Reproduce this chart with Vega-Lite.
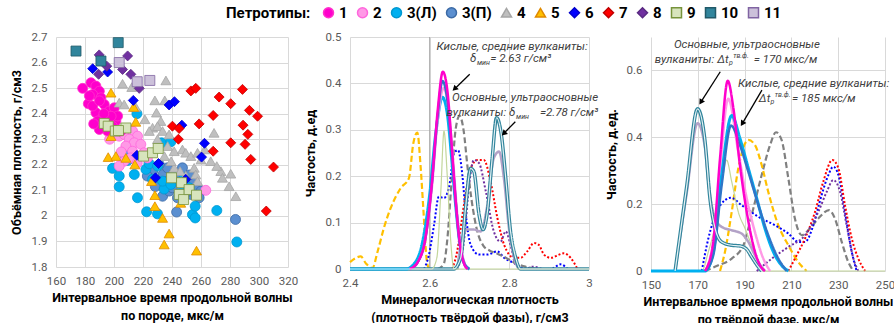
{
"$schema": "https://vega.github.io/schema/vega-lite/v6.json",
"background": "white",
"padding": {"left": 10, "top": 5, "right": 5, "bottom": 0},
"bounds": "flush",
"spacing": 62,
"config": {
  "font": "Roboto",
  "view": {"stroke": null},
  "axis": {"labelColor": "#595959", "labelFontSize": 11.5, "titleFontSize": 12.5, "titleFontWeight": "bold", "titleColor": "#000000", "gridColor": "#D9D9D9", "domain": false, "ticks": false, "labelPadding": 8, "titlePadding": 5, "titleLineHeight": 18, "labelFlush": false, "labelOverlap": false, "labelBound": false},
  "axisY": {"labelPadding": 9, "titlePadding": 8}
},
"datasets": {
  "scatter": [
    {"pt":"3(П)","x":226.6,"y":2.175},{"pt":"3(П)","x":233.8,"y":2.162},{"pt":"3(П)","x":236.9,"y":2.188},{"pt":"3(П)","x":241.5,"y":2.168},{"pt":"3(П)","x":245.9,"y":2.156},{"pt":"3(П)","x":230,"y":2.136},{"pt":"3(П)","x":236.9,"y":2.136},{"pt":"3(П)","x":242.7,"y":2.13},{"pt":"3(П)","x":250.7,"y":2.123},{"pt":"3(П)","x":255.3,"y":2.136},{"pt":"3(П)","x":257.6,"y":2.11},{"pt":"3(П)","x":233.5,"y":2.077},{"pt":"3(П)","x":238,"y":2.097},{"pt":"3(П)","x":243.8,"y":2.071},{"pt":"3(П)","x":253,"y":2.084},{"pt":"3(П)","x":260,"y":2.097},{"pt":"3(П)","x":243.2,"y":2.015},{"pt":"3(П)","x":283.8,"y":1.986},{"pt":"3(П)","x":258.7,"y":2.071},{"pt":"3(П)","x":223,"y":2.156},{"pt":"3(П)","x":231.2,"y":2.201},{"pt":"3(П)","x":247.2,"y":2.188},{"pt":"3(П)","x":249.5,"y":2.09},{"pt":"3(П)","x":240.3,"y":2.11},{"pt":"3(П)","x":228.5,"y":2.115},{"pt":"3(П)","x":252,"y":2.16},
    {"pt":"3(Л)","x":215.8,"y":2.4},{"pt":"3(Л)","x":212.1,"y":2.286},{"pt":"3(Л)","x":207.3,"y":2.24},{"pt":"3(Л)","x":209.4,"y":2.217},{"pt":"3(Л)","x":199,"y":2.186},{"pt":"3(Л)","x":203.6,"y":2.156},{"pt":"3(Л)","x":203.6,"y":2.114},{"pt":"3(Л)","x":214,"y":2.162},{"pt":"3(Л)","x":216.2,"y":2.071},{"pt":"3(Л)","x":222,"y":2.182},{"pt":"3(Л)","x":222.5,"y":2.016},{"pt":"3(Л)","x":230,"y":2.008},{"pt":"3(Л)","x":226.6,"y":2.143},{"pt":"3(Л)","x":232.8,"y":2.286},{"pt":"3(Л)","x":239.2,"y":2.29},{"pt":"3(Л)","x":234.6,"y":2.105},{"pt":"3(Л)","x":233.5,"y":2.136},{"pt":"3(Л)","x":239.2,"y":2.123},{"pt":"3(Л)","x":251.8,"y":2.11},{"pt":"3(Л)","x":254.1,"y":2.005},{"pt":"3(Л)","x":256,"y":1.992},{"pt":"3(Л)","x":256,"y":2.038},{"pt":"3(Л)","x":270.9,"y":2.021},{"pt":"3(Л)","x":284.7,"y":1.898},{"pt":"3(Л)","x":224.3,"y":2.204},{"pt":"3(Л)","x":230,"y":2.195},{"pt":"3(Л)","x":246,"y":2.09},{"pt":"3(Л)","x":248.3,"y":2.149},
    {"pt":"2","x":191,"y":2.345},{"pt":"2","x":199,"y":2.332},{"pt":"2","x":203.6,"y":2.312},{"pt":"2","x":207,"y":2.319},{"pt":"2","x":212.8,"y":2.332},{"pt":"2","x":216.2,"y":2.312},{"pt":"2","x":210.5,"y":2.3},{"pt":"2","x":214,"y":2.286},{"pt":"2","x":208.2,"y":2.273},{"pt":"2","x":218.5,"y":2.28},{"pt":"2","x":212.8,"y":2.253},{"pt":"2","x":220.8,"y":2.247},{"pt":"2","x":207,"y":2.214},{"pt":"2","x":211.6,"y":2.227},{"pt":"2","x":203.6,"y":2.195},{"pt":"2","x":263.3,"y":2.1},{"pt":"2","x":216,"y":2.207},{"pt":"2","x":223,"y":2.227},{"pt":"2","x":197,"y":2.3},{"pt":"2","x":205,"y":2.25},
    {"pt":"1","x":178.4,"y":2.499},{"pt":"1","x":184.1,"y":2.521},{"pt":"1","x":187.5,"y":2.508},{"pt":"1","x":189.9,"y":2.488},{"pt":"1","x":185.3,"y":2.475},{"pt":"1","x":191,"y":2.462},{"pt":"1","x":193.3,"y":2.436},{"pt":"1","x":182.3,"y":2.439},{"pt":"1","x":187.5,"y":2.404},{"pt":"1","x":196.7,"y":2.41},{"pt":"1","x":192.1,"y":2.384},{"pt":"1","x":196.7,"y":2.358},{"pt":"1","x":201.3,"y":2.371},{"pt":"1","x":204.8,"y":2.332},{"pt":"1","x":195.5,"y":2.332},{"pt":"1","x":188.7,"y":2.371},{"pt":"1","x":200.2,"y":2.423},{"pt":"1","x":202.5,"y":2.391},{"pt":"1","x":189.9,"y":2.338},{"pt":"1","x":185.3,"y":2.43},{"pt":"1","x":183,"y":2.47},{"pt":"1","x":190,"y":2.45},{"pt":"1","x":198,"y":2.39},{"pt":"1","x":193,"y":2.4},{"pt":"1","x":186,"y":2.36},{"pt":"1","x":199,"y":2.35},
    {"pt":"4","x":205.9,"y":2.517},{"pt":"4","x":212.3,"y":2.504},{"pt":"4","x":235.8,"y":2.53},{"pt":"4","x":203.6,"y":2.443},{"pt":"4","x":207,"y":2.436},{"pt":"4","x":215,"y":2.426},{"pt":"4","x":228.2,"y":2.452},{"pt":"4","x":235,"y":2.452},{"pt":"4","x":229.3,"y":2.404},{"pt":"4","x":221.3,"y":2.378},{"pt":"4","x":232.3,"y":2.371},{"pt":"4","x":226.6,"y":2.345},{"pt":"4","x":230,"y":2.351},{"pt":"4","x":224.3,"y":2.332},{"pt":"4","x":233.5,"y":2.332},{"pt":"4","x":238,"y":2.319},{"pt":"4","x":230,"y":2.3},{"pt":"4","x":237,"y":2.273},{"pt":"4","x":241.5,"y":2.253},{"pt":"4","x":247.2,"y":2.26},{"pt":"4","x":249.5,"y":2.247},{"pt":"4","x":253,"y":2.234},{"pt":"4","x":257.6,"y":2.247},{"pt":"4","x":262.6,"y":2.26},{"pt":"4","x":266.7,"y":2.214},{"pt":"4","x":269,"y":2.325},{"pt":"4","x":273.7,"y":2.175},{"pt":"4","x":270.9,"y":2.195},{"pt":"4","x":274.8,"y":2.149},{"pt":"4","x":280.5,"y":2.165},{"pt":"4","x":279.4,"y":2.116},{"pt":"4","x":284,"y":2.077},{"pt":"4","x":249.5,"y":2.158},{"pt":"4","x":255.3,"y":2.188},{"pt":"4","x":256.4,"y":2.162},{"pt":"4","x":241.5,"y":2.188},{"pt":"4","x":245.6,"y":2.175},{"pt":"4","x":241.5,"y":2.149},{"pt":"4","x":260,"y":2.22},{"pt":"4","x":257.6,"y":2.136},{"pt":"4","x":234.8,"y":2.234},{"pt":"4","x":239.4,"y":2.214},
    {"pt":"5","x":197.9,"y":2.482},{"pt":"5","x":213.5,"y":2.426},{"pt":"5","x":215,"y":2.368},{"pt":"5","x":197.9,"y":2.312},{"pt":"5","x":196,"y":2.23},{"pt":"5","x":201.3,"y":2.234},{"pt":"5","x":208.2,"y":2.227},{"pt":"5","x":214.4,"y":2.201},{"pt":"5","x":225.9,"y":2.136},{"pt":"5","x":228.2,"y":2.081},{"pt":"5","x":228.2,"y":2.038},{"pt":"5","x":233.5,"y":1.992},{"pt":"5","x":238,"y":1.931},{"pt":"5","x":234.6,"y":1.888},{"pt":"5","x":256.9,"y":1.864},{"pt":"5","x":246,"y":2.051},
    {"pt":"6","x":185.3,"y":2.576},{"pt":"6","x":195.6,"y":2.563},{"pt":"6","x":213.3,"y":2.452},{"pt":"6","x":238,"y":2.434},{"pt":"6","x":241.7,"y":2.447},{"pt":"6","x":246.8,"y":2.355},{"pt":"6","x":262.4,"y":2.284},{"pt":"6","x":260.4,"y":2.23},{"pt":"6","x":215.8,"y":2.237},{"pt":"6","x":230.7,"y":2.205},{"pt":"6","x":228.6,"y":2.149},{"pt":"6","x":249.5,"y":2.143},
    {"pt":"7","x":253,"y":2.489},{"pt":"7","x":256.4,"y":2.499},{"pt":"7","x":272.5,"y":2.465},{"pt":"7","x":288.6,"y":2.495},{"pt":"7","x":280.5,"y":2.439},{"pt":"7","x":293.4,"y":2.413},{"pt":"7","x":299,"y":2.39},{"pt":"7","x":268.4,"y":2.393},{"pt":"7","x":258.7,"y":2.36},{"pt":"7","x":240.3,"y":2.351},{"pt":"7","x":244.9,"y":2.342},{"pt":"7","x":244.4,"y":2.3},{"pt":"7","x":289,"y":2.355},{"pt":"7","x":292.3,"y":2.319},{"pt":"7","x":280.5,"y":2.286},{"pt":"7","x":290.4,"y":2.28},{"pt":"7","x":268.4,"y":2.253},{"pt":"7","x":294.3,"y":2.221},{"pt":"7","x":310,"y":2.191},{"pt":"7","x":305,"y":2.019},
    {"pt":"8","x":189.8,"y":2.63},{"pt":"8","x":195,"y":2.586},{"pt":"8","x":189.4,"y":2.554},{"pt":"8","x":209.4,"y":2.626},{"pt":"8","x":205.9,"y":2.573},{"pt":"8","x":211.6,"y":2.554},{"pt":"8","x":217.4,"y":2.499},
    {"pt":"9","x":193.3,"y":2.362},{"pt":"9","x":196,"y":2.351},{"pt":"9","x":200.9,"y":2.332},{"pt":"9","x":208.2,"y":2.344},{"pt":"9","x":203.1,"y":2.334},{"pt":"9","x":220.4,"y":2.234},{"pt":"9","x":226.6,"y":2.247},{"pt":"9","x":230.5,"y":2.264},{"pt":"9","x":239.7,"y":2.149},{"pt":"9","x":246.6,"y":2.13},{"pt":"9","x":245,"y":2.084},{"pt":"9","x":248,"y":2.064},{"pt":"9","x":251.8,"y":2.103},{"pt":"9","x":256.9,"y":2.081},
    {"pt":"10","x":173.8,"y":2.645},{"pt":"10","x":202.9,"y":2.678},{"pt":"10","x":191,"y":2.606},
    {"pt":"11","x":203.6,"y":2.6},{"pt":"11","x":216,"y":2.525},{"pt":"11","x":224.7,"y":2.53}
  ],
  "dens": [
    {"pt":"5","x":2.4,"y":0.015},{"pt":"5","x":2.427,"y":0.027},{"pt":"5","x":2.44,"y":0.012},{"pt":"5","x":2.456,"y":0.002},{"pt":"5","x":2.47,"y":0.04},{"pt":"5","x":2.485,"y":0.088},{"pt":"5","x":2.502,"y":0.131},{"pt":"5","x":2.527,"y":0.174},{"pt":"5","x":2.548,"y":0.196},{"pt":"5","x":2.559,"y":0.271},{"pt":"5","x":2.569,"y":0.294},{"pt":"5","x":2.577,"y":0.224},{"pt":"5","x":2.584,"y":0.131},{"pt":"5","x":2.592,"y":0.024},{"pt":"5","x":2.598,"y":0},
    {"pt":"6","x":2.586,"y":0},{"pt":"6","x":2.598,"y":0.03},{"pt":"6","x":2.611,"y":0.095},{"pt":"6","x":2.623,"y":0.156},{"pt":"6","x":2.636,"y":0.153},{"pt":"6","x":2.651,"y":0.188},{"pt":"6","x":2.661,"y":0.25},{"pt":"6","x":2.671,"y":0.256},{"pt":"6","x":2.682,"y":0.203},{"pt":"6","x":2.69,"y":0.124},{"pt":"6","x":2.703,"y":0.052},{"pt":"6","x":2.724,"y":0.031},{"pt":"6","x":2.745,"y":0.031},{"pt":"6","x":2.77,"y":0.038},{"pt":"6","x":2.787,"y":0.024},{"pt":"6","x":2.812,"y":0.013},{"pt":"6","x":2.837,"y":0.002},{"pt":"6","x":2.904,"y":0},{"pt":"6","x":2.929,"y":0.01},{"pt":"6","x":2.946,"y":0},
    {"pt":"7","x":2.657,"y":0},{"pt":"7","x":2.669,"y":0.038},{"pt":"7","x":2.686,"y":0.138},{"pt":"7","x":2.703,"y":0.217},{"pt":"7","x":2.72,"y":0.235},{"pt":"7","x":2.736,"y":0.235},{"pt":"7","x":2.753,"y":0.188},{"pt":"7","x":2.77,"y":0.11},{"pt":"7","x":2.787,"y":0.052},{"pt":"7","x":2.812,"y":0.024},{"pt":"7","x":2.828,"y":0.024},{"pt":"7","x":2.845,"y":0.038},{"pt":"7","x":2.862,"y":0.056},{"pt":"7","x":2.874,"y":0.052},{"pt":"7","x":2.887,"y":0.031},{"pt":"7","x":2.904,"y":0.024},{"pt":"7","x":2.925,"y":0.031},{"pt":"7","x":2.937,"y":0.034},{"pt":"7","x":2.954,"y":0.024},{"pt":"7","x":2.971,"y":0},
    {"pt":"8","x":2.669,"y":0},{"pt":"8","x":2.686,"y":0.06},{"pt":"8","x":2.699,"y":0.181},{"pt":"8","x":2.711,"y":0.235},{"pt":"8","x":2.724,"y":0.228},{"pt":"8","x":2.741,"y":0.167},{"pt":"8","x":2.761,"y":0.081},{"pt":"8","x":2.778,"y":0.059},{"pt":"8","x":2.791,"y":0.081},{"pt":"8","x":2.803,"y":0.052},{"pt":"8","x":2.816,"y":0.009},{"pt":"8","x":2.837,"y":0},{"pt":"8","x":2.86,"y":0.005},{"pt":"8","x":2.88,"y":0},
    {"pt":"4","x":2.62,"y":0},{"pt":"4","x":2.635,"y":0.01},{"pt":"4","x":2.645,"y":0.07},{"pt":"4","x":2.655,"y":0.19},{"pt":"4","x":2.665,"y":0.3},{"pt":"4","x":2.675,"y":0.33},{"pt":"4","x":2.685,"y":0.3},{"pt":"4","x":2.695,"y":0.22},{"pt":"4","x":2.705,"y":0.15},{"pt":"4","x":2.72,"y":0.08},{"pt":"4","x":2.735,"y":0.05},{"pt":"4","x":2.75,"y":0.04},{"pt":"4","x":2.77,"y":0.033},{"pt":"4","x":2.79,"y":0.025},{"pt":"4","x":2.81,"y":0.015},{"pt":"4","x":2.84,"y":0.005},{"pt":"4","x":2.87,"y":0},
    {"pt":"11","x":2.669,"y":0},{"pt":"11","x":2.682,"y":0.067},{"pt":"11","x":2.695,"y":0.085},{"pt":"11","x":2.711,"y":0.085},{"pt":"11","x":2.728,"y":0.081},{"pt":"11","x":2.745,"y":0.138},{"pt":"11","x":2.761,"y":0.239},{"pt":"11","x":2.774,"y":0.253},{"pt":"11","x":2.787,"y":0.191},{"pt":"11","x":2.799,"y":0.088},{"pt":"11","x":2.812,"y":0.024},{"pt":"11","x":2.824,"y":0},
    {"pt":"10","x":2.4,"y":0},{"pt":"10","x":2.66,"y":0},{"pt":"10","x":2.678,"y":0.024},{"pt":"10","x":2.69,"y":0.131},{"pt":"10","x":2.703,"y":0.217},{"pt":"10","x":2.711,"y":0.21},{"pt":"10","x":2.724,"y":0.117},{"pt":"10","x":2.734,"y":0.085},{"pt":"10","x":2.745,"y":0.124},{"pt":"10","x":2.757,"y":0.239},{"pt":"10","x":2.768,"y":0.326},{"pt":"10","x":2.78,"y":0.289},{"pt":"10","x":2.791,"y":0.196},{"pt":"10","x":2.803,"y":0.081},{"pt":"10","x":2.816,"y":0.024},{"pt":"10","x":2.828,"y":0},{"pt":"10","x":3.0,"y":0},
    {"pt":"9","x":2.4,"y":0},{"pt":"9","x":2.605,"y":0},{"pt":"9","x":2.618,"y":0.024},{"pt":"9","x":2.628,"y":0.167},{"pt":"9","x":2.636,"y":0.297},{"pt":"9","x":2.644,"y":0.203},{"pt":"9","x":2.653,"y":0.059},{"pt":"9","x":2.661,"y":0},{"pt":"9","x":3.0,"y":0},
    {"pt":"3(Л)","x":2.4,"y":0},{"pt":"3(Л)","x":2.54,"y":0},{"pt":"3(Л)","x":2.56,"y":0.01},{"pt":"3(Л)","x":2.58,"y":0.05},{"pt":"3(Л)","x":2.6,"y":0.16},{"pt":"3(Л)","x":2.615,"y":0.29},{"pt":"3(Л)","x":2.632,"y":0.37},{"pt":"3(Л)","x":2.645,"y":0.33},{"pt":"3(Л)","x":2.655,"y":0.24},{"pt":"3(Л)","x":2.665,"y":0.14},{"pt":"3(Л)","x":2.675,"y":0.06},{"pt":"3(Л)","x":2.688,"y":0.01},{"pt":"3(Л)","x":2.7,"y":0},
    {"pt":"2","x":2.55,"y":0},{"pt":"2","x":2.57,"y":0.015},{"pt":"2","x":2.59,"y":0.07},{"pt":"2","x":2.605,"y":0.17},{"pt":"2","x":2.62,"y":0.32},{"pt":"2","x":2.635,"y":0.39},{"pt":"2","x":2.648,"y":0.34},{"pt":"2","x":2.66,"y":0.22},{"pt":"2","x":2.67,"y":0.11},{"pt":"2","x":2.68,"y":0.04},{"pt":"2","x":2.692,"y":0.005},{"pt":"2","x":2.7,"y":0},
    {"pt":"3(П)","x":2.55,"y":0},{"pt":"3(П)","x":2.57,"y":0.015},{"pt":"3(П)","x":2.59,"y":0.07},{"pt":"3(П)","x":2.605,"y":0.18},{"pt":"3(П)","x":2.62,"y":0.33},{"pt":"3(П)","x":2.632,"y":0.405},{"pt":"3(П)","x":2.645,"y":0.36},{"pt":"3(П)","x":2.655,"y":0.26},{"pt":"3(П)","x":2.665,"y":0.15},{"pt":"3(П)","x":2.675,"y":0.06},{"pt":"3(П)","x":2.688,"y":0.01},{"pt":"3(П)","x":2.7,"y":0},
    {"pt":"1","x":2.55,"y":0},{"pt":"1","x":2.57,"y":0.015},{"pt":"1","x":2.59,"y":0.07},{"pt":"1","x":2.605,"y":0.18},{"pt":"1","x":2.62,"y":0.34},{"pt":"1","x":2.633,"y":0.425},{"pt":"1","x":2.645,"y":0.38},{"pt":"1","x":2.655,"y":0.27},{"pt":"1","x":2.665,"y":0.15},{"pt":"1","x":2.675,"y":0.06},{"pt":"1","x":2.685,"y":0.015},{"pt":"1","x":2.695,"y":0}
  ],
  "dt": [
    {"pt":"4","x":173.1,"y":0},{"pt":"4","x":178.8,"y":0.017},{"pt":"4","x":184.5,"y":0.037},{"pt":"4","x":189.5,"y":0.077},{"pt":"4","x":193,"y":0.167},{"pt":"4","x":197.3,"y":0.287},{"pt":"4","x":200.9,"y":0.377},{"pt":"4","x":203.4,"y":0.415},{"pt":"4","x":205.8,"y":0.392},{"pt":"4","x":208.7,"y":0.277},{"pt":"4","x":211.5,"y":0.157},{"pt":"4","x":214.4,"y":0.107},{"pt":"4","x":217.9,"y":0.127},{"pt":"4","x":221.5,"y":0.157},{"pt":"4","x":226.1,"y":0.182},{"pt":"4","x":228.6,"y":0.157},{"pt":"4","x":231.5,"y":0.087},{"pt":"4","x":234.3,"y":0.027},{"pt":"4","x":236.5,"y":0},
    {"pt":"5","x":179.5,"y":0},{"pt":"5","x":181.6,"y":0.057},{"pt":"5","x":184.5,"y":0.177},{"pt":"5","x":187.3,"y":0.307},{"pt":"5","x":191.6,"y":0.392},{"pt":"5","x":194.4,"y":0.377},{"pt":"5","x":197.3,"y":0.317},{"pt":"5","x":200.1,"y":0.237},{"pt":"5","x":204.4,"y":0.137},{"pt":"5","x":208.7,"y":0.077},{"pt":"5","x":212.9,"y":0.027},{"pt":"5","x":216.5,"y":0},
    {"pt":"6","x":171.7,"y":0},{"pt":"6","x":174.5,"y":0.097},{"pt":"6","x":178.1,"y":0.177},{"pt":"6","x":181.6,"y":0.212},{"pt":"6","x":184.2,"y":0.219},{"pt":"6","x":188.7,"y":0.197},{"pt":"6","x":195.9,"y":0.162},{"pt":"6","x":203,"y":0.137},{"pt":"6","x":208.7,"y":0.112},{"pt":"6","x":213,"y":0.087},{"pt":"6","x":215.8,"y":0.087},{"pt":"6","x":219.4,"y":0.137},{"pt":"6","x":222.9,"y":0.227},{"pt":"6","x":225.8,"y":0.287},{"pt":"6","x":227.9,"y":0.312},{"pt":"6","x":230.1,"y":0.287},{"pt":"6","x":232.9,"y":0.177},{"pt":"6","x":235.8,"y":0.057},{"pt":"6","x":237.9,"y":0},
    {"pt":"7","x":208.7,"y":0},{"pt":"7","x":211.5,"y":0.037},{"pt":"7","x":215.8,"y":0.097},{"pt":"7","x":220.1,"y":0.177},{"pt":"7","x":223.6,"y":0.267},{"pt":"7","x":227.5,"y":0.332},{"pt":"7","x":230.1,"y":0.307},{"pt":"7","x":232.9,"y":0.197},{"pt":"7","x":235.8,"y":0.097},{"pt":"7","x":238.6,"y":0.037},{"pt":"7","x":241.5,"y":0},
    {"pt":"8","x":195.2,"y":0},{"pt":"8","x":201.6,"y":0.037},{"pt":"8","x":208.7,"y":0.072},{"pt":"8","x":215.8,"y":0.107},{"pt":"8","x":221.5,"y":0.177},{"pt":"8","x":225.1,"y":0.237},{"pt":"8","x":227.9,"y":0.272},{"pt":"8","x":230.8,"y":0.237},{"pt":"8","x":233.6,"y":0.137},{"pt":"8","x":236.5,"y":0.037},{"pt":"8","x":238.6,"y":0},
    {"pt":"9","x":150,"y":0},{"pt":"9","x":171.7,"y":0},{"pt":"9","x":174.5,"y":0.057},{"pt":"9","x":177.4,"y":0.137},{"pt":"9","x":180.2,"y":0.257},{"pt":"9","x":182.3,"y":0.332},{"pt":"9","x":184.5,"y":0.267},{"pt":"9","x":187.3,"y":0.177},{"pt":"9","x":190.2,"y":0.127},{"pt":"9","x":193,"y":0.077},{"pt":"9","x":195.9,"y":0.027},{"pt":"9","x":198,"y":0},{"pt":"9","x":250,"y":0},
    {"pt":"11","x":160.3,"y":0},{"pt":"11","x":165.2,"y":0.23},{"pt":"11","x":169.9,"y":0.442},{"pt":"11","x":173.1,"y":0.367},{"pt":"11","x":174.5,"y":0.267},{"pt":"11","x":177.4,"y":0.157},{"pt":"11","x":180.2,"y":0.132},{"pt":"11","x":184.5,"y":0.122},{"pt":"11","x":188.7,"y":0.112},{"pt":"11","x":191.6,"y":0.087},{"pt":"11","x":194.4,"y":0.047},{"pt":"11","x":197.3,"y":0.012},{"pt":"11","x":198.7,"y":0},
    {"pt":"10","x":160.3,"y":0},{"pt":"10","x":165.2,"y":0.25},{"pt":"10","x":169.9,"y":0.485},{"pt":"10","x":173.1,"y":0.387},{"pt":"10","x":175.2,"y":0.217},{"pt":"10","x":177.4,"y":0.127},{"pt":"10","x":180.2,"y":0.087},{"pt":"10","x":184.5,"y":0.077},{"pt":"10","x":188,"y":0.075},{"pt":"10","x":190.9,"y":0.065},{"pt":"10","x":193,"y":0.042},{"pt":"10","x":195.9,"y":0.012},{"pt":"10","x":197.3,"y":0},
    {"pt":"2","x":173.1,"y":0},{"pt":"2","x":176.6,"y":0.077},{"pt":"2","x":179.5,"y":0.307},{"pt":"2","x":183,"y":0.515},{"pt":"2","x":187.3,"y":0.357},{"pt":"2","x":190.9,"y":0.217},{"pt":"2","x":194.4,"y":0.117},{"pt":"2","x":198,"y":0.037},{"pt":"2","x":200.9,"y":0},
    {"pt":"3(Л)","x":150,"y":0},{"pt":"3(Л)","x":173.1,"y":0},{"pt":"3(Л)","x":176.6,"y":0.057},{"pt":"3(Л)","x":180.2,"y":0.287},{"pt":"3(Л)","x":184.5,"y":0.465},{"pt":"3(Л)","x":188,"y":0.397},{"pt":"3(Л)","x":191.6,"y":0.307},{"pt":"3(Л)","x":195.2,"y":0.217},{"pt":"3(Л)","x":198.7,"y":0.127},{"pt":"3(Л)","x":202.3,"y":0.057},{"pt":"3(Л)","x":205.8,"y":0.017},{"pt":"3(Л)","x":208.7,"y":0},
    {"pt":"3(П)","x":173.1,"y":0},{"pt":"3(П)","x":176.6,"y":0.047},{"pt":"3(П)","x":180.2,"y":0.257},{"pt":"3(П)","x":184.2,"y":0.435},{"pt":"3(П)","x":188,"y":0.377},{"pt":"3(П)","x":191.6,"y":0.297},{"pt":"3(П)","x":195.9,"y":0.197},{"pt":"3(П)","x":200.1,"y":0.107},{"pt":"3(П)","x":204.4,"y":0.037},{"pt":"3(П)","x":208,"y":0},
    {"pt":"1","x":173.1,"y":0},{"pt":"1","x":176.6,"y":0.087},{"pt":"1","x":179.5,"y":0.337},{"pt":"1","x":182.8,"y":0.569},{"pt":"1","x":185.2,"y":0.487},{"pt":"1","x":188,"y":0.317},{"pt":"1","x":190.9,"y":0.177},{"pt":"1","x":193.7,"y":0.077},{"pt":"1","x":196.6,"y":0.017},{"pt":"1","x":198.7,"y":0}
  ],
  "vline": [{"x": 2.6}],
  "arr2": [{"x":2.7005,"y":0.4196,"x2":2.6625,"y2":0.388},{"x":2.815,"y":0.3175,"x2":2.786,"y2":0.292}],
  "arr3": [{"x":179.6,"y":0.596,"x2":171.3,"y2":0.505},{"x":197.4,"y":0.541,"x2":189,"y2":0.441}],
  "ann2c": [{"x":2.807,"y":0.479,"t":"Кислые, средние вулканиты:"}],
  "ann2l": [{"x":2.701,"y":0.452,"t":"δ"},{"x":2.752,"y":0.452,"t":"= 2.63 г/см³"}],
  "ann2r": [{"x":3.023,"y":0.369,"t":"Основные, ультраосновные"},{"x":2.815,"y":0.336,"t":"вулканиты: δ"},{"x":3.023,"y":0.336,"t":"=2.78 г/см³"}],
  "ann2s": [{"x":2.719,"y":0.443,"t":"мин"},{"x":2.817,"y":0.327,"t":"мин"}],
  "ann3c": [{"x":191,"y":0.676,"t":"Основные, ультраосновные"},{"x":219.5,"y":0.558,"t":"Кислые, средние вулканиты:"}],
  "ann3r": [{"x":183.2,"y":0.631,"t":"вулканиты: Δt"},{"x":201.0,"y":0.515,"t":"Δt"}],
  "ann3l": [{"x":193.9,"y":0.631,"t":"= 170 мкс/м"},{"x":210.3,"y":0.515,"t":"= 185 мкс/м"}],
  "ann3s": [{"x":183.3,"y":0.621,"t":"р"},{"x":185.1,"y":0.643,"t":"тв.ф."},{"x":201.1,"y":0.505,"t":"р"},{"x":202.9,"y":0.527,"t":"тв.ф."}]
},
"hconcat": [
  {
    "width": 232, "height": 230,
    "data": {"name": "scatter"},
    "mark": {"type": "point", "filled": true, "size": 100, "strokeWidth": 0.8, "opacity": 1},
    "encoding": {
      "x": {"field": "x", "type": "quantitative", "scale": {"domain": [160, 320], "nice": false, "zero": false}, "axis": {"values": [160,180,200,220,240,260,280,300,320], "title": ["Интервальное время продольной волны", "по породе, мкс/м"]}},
      "y": {"field": "y", "type": "quantitative", "scale": {"domain": [1.8, 2.7], "nice": false, "zero": false}, "axis": {"values": [1.8,1.9,2,2.1,2.2,2.3,2.4,2.5,2.6,2.7], "format": "~g", "title": "Объёмная плотность, г/см3"}},
      "color": {"field": "pt", "type": "nominal", "scale": {"domain": ["1","2","3(Л)","3(П)","4","5","6","7","8","9","10","11"], "range": ["#FF00CC","#FF99E6","#00B0F0","#5B8FD0","#BFBFBF","#FFC000","#0000FF","#FF0000","#7030A0","#D7E4BD","#31859C","#CCC1DA"]},
        "legend": {"orient": "none", "legendX": 170, "legendY": -32, "direction": "horizontal", "columns": 12, "title": "Петротипы:", "titleOrient": "left", "titleFontSize": 15, "titleFontWeight": "bold", "titleColor": "#000000", "titlePadding": 10, "labelFontSize": 15, "labelFontWeight": "bold", "labelColor": "#000000", "symbolSize": 100, "columnPadding": 6, "labelOffset": 3}},
      "shape": {"field": "pt", "type": "nominal", "scale": {"domain": ["1","2","3(Л)","3(П)","4","5","6","7","8","9","10","11"], "range": ["circle","circle","circle","circle","triangle-up","triangle-up","diamond","diamond","diamond","square","square","square"]},
        "legend": {"orient": "none", "legendX": 170, "legendY": -32, "direction": "horizontal", "columns": 12, "title": "Петротипы:", "titleOrient": "left", "titleFontSize": 15, "titleFontWeight": "bold", "titleColor": "#000000", "titlePadding": 10, "labelFontSize": 15, "labelFontWeight": "bold", "labelColor": "#000000", "symbolSize": 100, "columnPadding": 6, "labelOffset": 3}},
      "stroke": {"field": "pt", "type": "nominal", "scale": {"domain": ["1","2","3(Л)","3(П)","4","5","6","7","8","9","10","11"], "range": ["#FF33CC","#FF66DD","#0098D0","#3C6AA5","#A6A6A6","#E08A00","#0000CC","#C00000","#5A2A82","#77933C","#215968","#8064A2"]}, "legend": null}
    }
  },
  {
    "width": 239, "height": 232,
    "layer": [
      {"data": {"name": "vline"}, "mark": {"type": "rule", "color": "#A6A6A6", "strokeWidth": 1},
       "encoding": {"x": {"field": "x", "type": "quantitative"}}},
      {"data": {"name": "dens"}, "mark": {"type": "line", "interpolate": "monotone"},
       "encoding": {
         "x": {"field": "x", "type": "quantitative", "scale": {"domain": [2.4, 3], "nice": false, "zero": false}, "axis": {"values": [2.4,2.5,2.6,2.7,2.8,2.9,3], "format": "~g", "title": ["Минералогическая плотность", "(плотность твёрдой фазы), г/см3"]}},
         "y": {"field": "y", "type": "quantitative", "scale": {"domain": [0, 0.5], "nice": false}, "axis": {"values": [0,0.1,0.2,0.3,0.4,0.5], "format": "~g", "title": "Частость, д.ед"}},
         "color": {"field": "pt", "type": "nominal", "scale": {"domain": ["1","2","3(Л)","3(П)","4","5","6","7","8","9","10","11"], "range": ["#FF00CC","#FF99E6","#00B0F0","#2F75C8","#808080","#FFC000","#0000FF","#FF0000","#7030A0","#C3D69B","#31859C","#B3A2C7"]}, "legend": null},
         "strokeDash": {"field": "pt", "type": "nominal", "scale": {"domain": ["1","2","3(Л)","3(П)","4","5","6","7","8","9","10","11"], "range": [[1,0],[1,0],[1,0],[1,0],[6,3],[6,3],[2,2],[2,2],[2,2],[1,0],[1,0],[1,0]]}, "legend": null},
         "strokeWidth": {"field": "pt", "type": "nominal", "scale": {"type": "ordinal", "domain": ["1","2","3(Л)","3(П)","4","5","6","7","8","9","10","11"], "range": [2.5,2.5,3,2.5,2.2,2.2,2,2,2,1.2,3.5,2.5]}, "legend": null}
       }},
      {"data": {"name": "dens"}, "transform": [{"filter": "datum.pt === '10'"}], "mark": {"type": "line", "interpolate": "monotone", "color": "#E6F2F5", "strokeWidth": 1.2},
       "encoding": {"x": {"field": "x", "type": "quantitative"}, "y": {"field": "y", "type": "quantitative"}}},
      {"data": {"name": "arr2"}, "mark": {"type": "rule", "color": "#000000", "strokeWidth": 1.3},
       "encoding": {"x": {"field": "x", "type": "quantitative"}, "y": {"field": "y", "type": "quantitative"}, "x2": {"field": "x2"}, "y2": {"field": "y2"}}},
      {"data": {"name": "arr2"}, "mark": {"type": "point", "shape": "triangle-up", "filled": true, "color": "#000000", "size": 40, "angle": 226, "opacity": 1},
       "encoding": {"x": {"field": "x2", "type": "quantitative"}, "y": {"field": "y2", "type": "quantitative"}}},
      {"data": {"name": "ann2c"}, "mark": {"type": "text", "fontStyle": "italic", "fontSize": 11.5, "color": "#404040", "align": "center", "baseline": "middle"},
       "encoding": {"x": {"field": "x", "type": "quantitative"}, "y": {"field": "y", "type": "quantitative"}, "text": {"field": "t"}}},
      {"data": {"name": "ann2l"}, "mark": {"type": "text", "fontStyle": "italic", "fontSize": 11.5, "color": "#404040", "align": "left", "baseline": "middle"},
       "encoding": {"x": {"field": "x", "type": "quantitative"}, "y": {"field": "y", "type": "quantitative"}, "text": {"field": "t"}}},
      {"data": {"name": "ann2r"}, "mark": {"type": "text", "fontStyle": "italic", "fontSize": 11.5, "color": "#404040", "align": "right", "baseline": "middle"},
       "encoding": {"x": {"field": "x", "type": "quantitative"}, "y": {"field": "y", "type": "quantitative"}, "text": {"field": "t"}}},
      {"data": {"name": "ann2s"}, "mark": {"type": "text", "fontStyle": "italic", "fontSize": 7, "color": "#404040", "align": "left", "baseline": "middle"},
       "encoding": {"x": {"field": "x", "type": "quantitative"}, "y": {"field": "y", "type": "quantitative"}, "text": {"field": "t"}}}
    ]
  },
  {
    "width": 234, "height": 234,
    "layer": [
      {"data": {"name": "dt"}, "mark": {"type": "line", "interpolate": "monotone"},
       "encoding": {
         "x": {"field": "x", "type": "quantitative", "scale": {"domain": [150, 250], "nice": false, "zero": false}, "axis": {"values": [150,160,170,180,190,200,210,220,230,240,250], "title": ["Интервальное врмемя продольной волны", "по твёрдой фазе, мкс/м"]}},
         "y": {"field": "y", "type": "quantitative", "scale": {"domain": [0, 0.7], "nice": false}, "axis": {"values": [0,0.1,0.2,0.3,0.4,0.5,0.6,0.7], "format": "~g", "title": "Частость, д.ед."}},
         "color": {"field": "pt", "type": "nominal", "scale": {"domain": ["1","2","3(Л)","3(П)","4","5","6","7","8","9","10","11"], "range": ["#FF00CC","#FF99E6","#00B0F0","#2F75C8","#808080","#FFC000","#0000FF","#FF0000","#7030A0","#C3D69B","#31859C","#B3A2C7"]}, "legend": null},
         "strokeDash": {"field": "pt", "type": "nominal", "scale": {"domain": ["1","2","3(Л)","3(П)","4","5","6","7","8","9","10","11"], "range": [[1,0],[1,0],[1,0],[1,0],[6,3],[6,3],[2,2],[2,2],[2,2],[1,0],[1,0],[1,0]]}, "legend": null},
         "strokeWidth": {"field": "pt", "type": "nominal", "scale": {"type": "ordinal", "domain": ["1","2","3(Л)","3(П)","4","5","6","7","8","9","10","11"], "range": [2.5,2.5,3,2.5,2.2,2.2,2,2,2,1.2,3.5,2.5]}, "legend": null}
       }},
      {"data": {"name": "dt"}, "transform": [{"filter": "datum.pt === '10'"}], "mark": {"type": "line", "interpolate": "monotone", "color": "#E6F2F5", "strokeWidth": 1.2},
       "encoding": {"x": {"field": "x", "type": "quantitative"}, "y": {"field": "y", "type": "quantitative"}}},
      {"data": {"name": "arr3"}, "mark": {"type": "rule", "color": "#000000", "strokeWidth": 1.3},
       "encoding": {"x": {"field": "x", "type": "quantitative"}, "y": {"field": "y", "type": "quantitative"}, "x2": {"field": "x2"}, "y2": {"field": "y2"}}},
      {"data": {"name": "arr3"}, "mark": {"type": "point", "shape": "triangle-up", "filled": true, "color": "#000000", "size": 40, "angle": 212, "opacity": 1},
       "encoding": {"x": {"field": "x2", "type": "quantitative"}, "y": {"field": "y2", "type": "quantitative"}}},
      {"data": {"name": "ann3c"}, "mark": {"type": "text", "fontStyle": "italic", "fontSize": 11.5, "color": "#404040", "align": "center", "baseline": "middle"},
       "encoding": {"x": {"field": "x", "type": "quantitative"}, "y": {"field": "y", "type": "quantitative"}, "text": {"field": "t"}}},
      {"data": {"name": "ann3r"}, "mark": {"type": "text", "fontStyle": "italic", "fontSize": 11.5, "color": "#404040", "align": "right", "baseline": "middle"},
       "encoding": {"x": {"field": "x", "type": "quantitative"}, "y": {"field": "y", "type": "quantitative"}, "text": {"field": "t"}}},
      {"data": {"name": "ann3l"}, "mark": {"type": "text", "fontStyle": "italic", "fontSize": 11.5, "color": "#404040", "align": "left", "baseline": "middle"},
       "encoding": {"x": {"field": "x", "type": "quantitative"}, "y": {"field": "y", "type": "quantitative"}, "text": {"field": "t"}}},
      {"data": {"name": "ann3s"}, "mark": {"type": "text", "fontStyle": "italic", "fontSize": 7, "color": "#404040", "align": "left", "baseline": "middle"},
       "encoding": {"x": {"field": "x", "type": "quantitative"}, "y": {"field": "y", "type": "quantitative"}, "text": {"field": "t"}}}
    ]
  }
],
"resolve": {"scale": {"x": "independent", "y": "independent", "color": "independent", "shape": "independent", "stroke": "independent", "strokeDash": "independent", "strokeWidth": "independent"}, "legend": {"color": "independent", "shape": "independent"}}
}
